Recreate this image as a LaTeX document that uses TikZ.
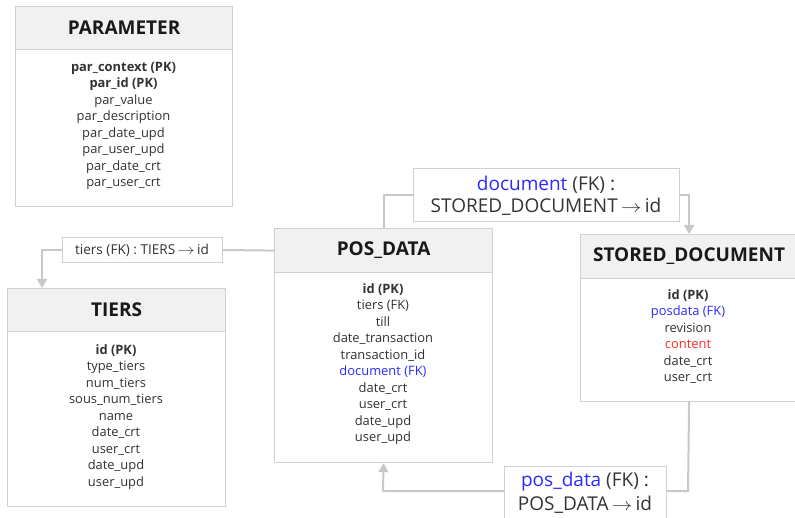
\documentclass[tikz,border=0pt]{standalone}
\usepackage{fontspec}
\setmainfont{Open Sans}
\usetikzlibrary{arrows.meta,calc}
\definecolor{bord}{HTML}{D0D0D0}
\definecolor{hdr}{HTML}{F1F1F1}
\definecolor{txt}{HTML}{333333}
\definecolor{fkblue}{HTML}{2B2BFF}
\definecolor{redtxt}{HTML}{FF2B2B}
\definecolor{conn}{HTML}{C8C8C8}
\newcommand\fieldlist[3]{%
  \foreach \t [count=\i from 0] in {#3}
    \node[fld] at (#1,{#2+\i*16.5}) {\t};}
\newcommand\toarrow{\,$\mathrel{\scalebox{1.2}[1]{$\rightarrow$}}$\,}
\begin{document}
\begin{tikzpicture}[x=1pt,y=-1pt,
  tbl/.style={draw=bord,line width=1.2pt,fill=white,anchor=north west,inner sep=0},
  hd/.style={draw=bord,line width=1.2pt,fill=hdr,anchor=north west,inner sep=0,
    font=\fontsize{19}{22}\selectfont\bfseries,text=black!90},
  fld/.style={inner sep=0,font=\fontsize{12.9}{15}\selectfont,text=txt,
    text height=9.5,text depth=3},
  lbl/.style={draw=bord,line width=1pt,fill=white,inner sep=0,text=txt,align=center},
  conn/.style={draw=conn,line width=2pt},
  arr/.style={conn,-{Triangle[width=10pt,length=9pt]}}]
\useasboundingbox (0,0) rectangle (795,518);
\begin{scope}
\clip (0,0) rectangle (795,518);
% PARAMETER
\node[tbl,minimum width=217,minimum height=200] (param) at (15,6) {};
\node[hd,minimum width=217,minimum height=43] (paramh) at (15,6) {PARAMETER};
\fieldlist{123.5}{68}{\textbf{par\_context (PK)},\textbf{par\_id (PK)},par\_value,par\_description,par\_date\_upd,par\_user\_upd,par\_date\_crt,par\_user\_crt}
% TIERS
\node[tbl,minimum width=218,minimum height=218] (tiers) at (7,288) {};
\node[hd,minimum width=218,minimum height=43] (tiersh) at (7,288) {TIERS};
\fieldlist{116}{351}{\textbf{id (PK)},type\_tiers,num\_tiers,sous\_num\_tiers,name,date\_crt,user\_crt,date\_upd,user\_upd}
% POS_DATA
\node[tbl,minimum width=218,minimum height=234] (pos) at (274,228) {};
\node[hd,minimum width=218,minimum height=44] (posh) at (274,228) {POS\_DATA};
\fieldlist{383}{290}{\textbf{id (PK)},tiers (FK),till,date\_transaction,transaction\_id,\textcolor{fkblue}{document (FK)},date\_crt,user\_crt,date\_upd,user\_upd}
% STORED_DOCUMENT
\node[tbl,minimum width=217,minimum height=167] (sd) at (580,234) {};
\node[hd,minimum width=217,minimum height=44] (sdh) at (580,234) {STORED\_DOCUMENT};
\fieldlist{688}{296}{\textbf{id (PK)},\textcolor{fkblue}{posdata (FK)},revision,\textcolor{redtxt}{content},date\_crt,user\_crt}
% labels
\node[lbl,minimum width=160,minimum height=25,font=\fontsize{13.6}{16}\selectfont] (tlbl) at (142,250) {tiers (FK) : TIERS\toarrow id};
\node[lbl,minimum width=266,minimum height=53,font=\fontsize{19}{22.5}\selectfont] (dlbl) at (546,195.5) {\textcolor{fkblue}{document} (FK) :\\STORED\_DOCUMENT\toarrow id};
\node[lbl,anchor=north west,minimum width=162,minimum height=62] (plbl) at (504,466) {};
\node[inner sep=0,text=txt,font=\fontsize{19}{22.5}\selectfont] (plt1) at (585,482) {\textcolor{fkblue}{pos\_data} (FK) :};
\node[inner sep=0,text=txt,font=\fontsize{19}{22.5}\selectfont] (plt2) at (585,504.5) {POS\_DATA\toarrow id};
% connectors
\coordinate (tbend) at (42,250);
\coordinate (pbendL) at (383,491);
\coordinate (pbendR) at (688,491);
\draw[conn] (posh.west) -- (tlbl.east);
\draw[arr] (tlbl.west) -- (tbend) -- (tbend |- tiers.north);
\draw[conn] (posh.north) |- (dlbl.west);
\draw[arr] (dlbl.east) -| (sdh.north);
\draw[conn] (sd.south) -- (pbendR) -- (plbl.north east |- pbendR);
\draw[arr] (plbl.north west |- pbendL) -- (pbendL) -- (pos.south);
\end{scope}
\end{tikzpicture}
\end{document}
